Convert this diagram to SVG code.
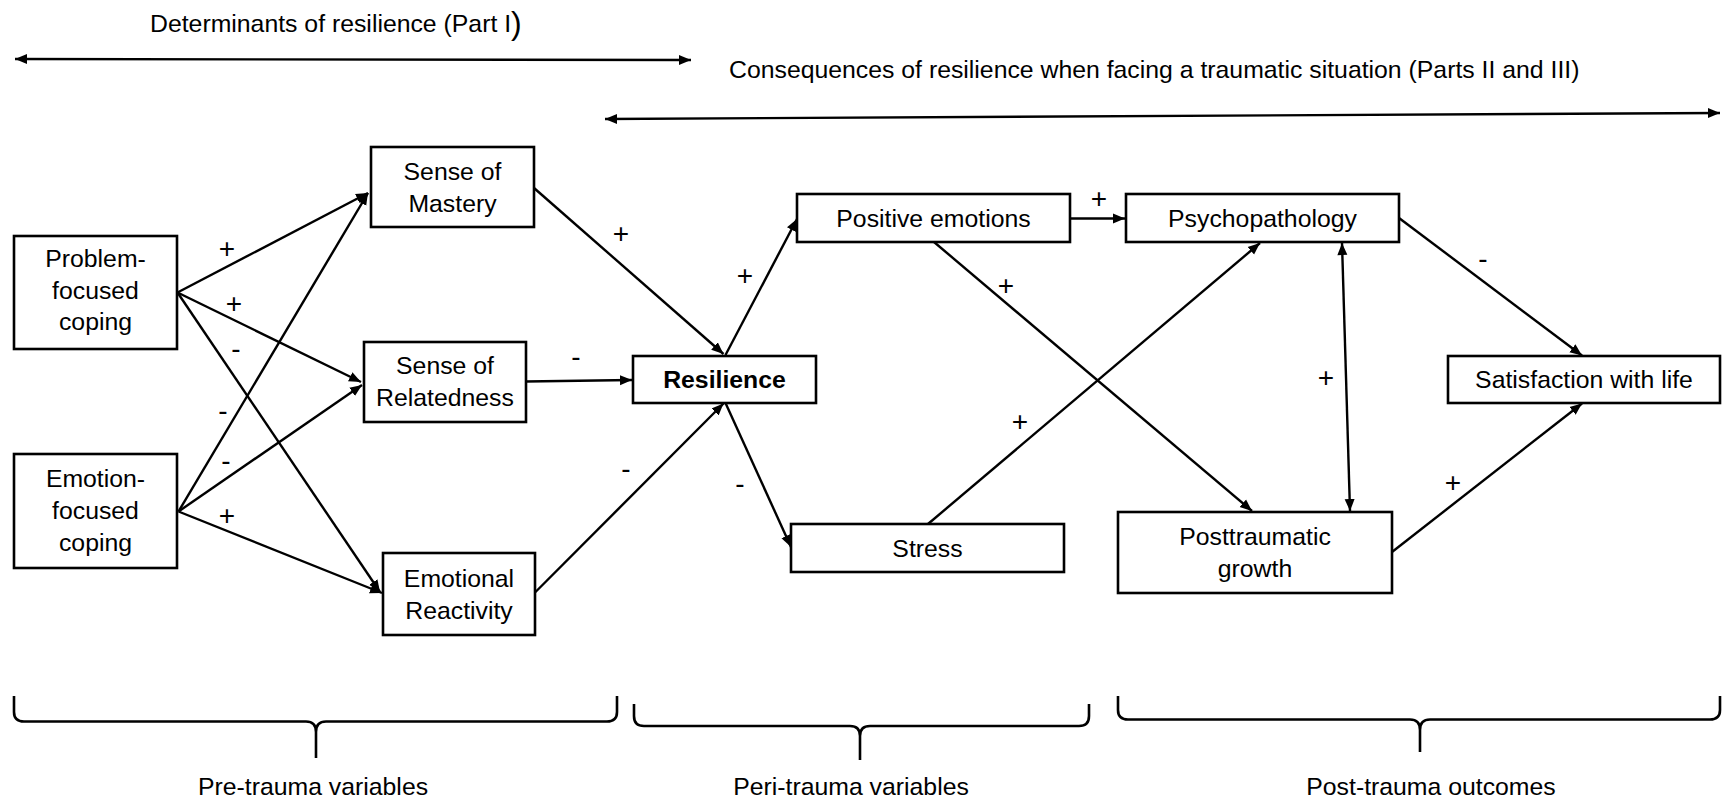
<svg xmlns="http://www.w3.org/2000/svg" width="1722" height="802" viewBox="0 0 1722 802">
  <defs>
    <marker id="arrow" markerUnits="userSpaceOnUse" markerWidth="13" markerHeight="11" refX="12" refY="5.5" orient="auto">
      <path d="M0,0.5 L12,5.5 L0,10.5 z" fill="#000"/>
    </marker>
    <marker id="arrow-start" markerUnits="userSpaceOnUse" markerWidth="13" markerHeight="11" refX="0" refY="5.5" orient="auto">
      <path d="M12,0.5 L0,5.5 L12,10.5 z" fill="#000"/>
    </marker>
  </defs>
  <style>
    text { font-family: "Liberation Sans", Arial, sans-serif; font-size: 24.8px; fill: #000; }
    .node rect { fill: #fff; stroke: #000; stroke-width: 2.6; }
    .node text { text-anchor: middle; }
    .bold { font-weight: bold; }
    .edge { fill: none; stroke: #000; stroke-width: 2.4; marker-end: url(#arrow); }
    .both { marker-start: url(#arrow-start); }
    .sign { text-anchor: middle; font-size: 28px; }
    .brace { fill: none; stroke: #000; stroke-width: 2.6; stroke-linejoin: round; }
    .caption { text-anchor: middle; }
  </style>

  <!-- headings with their span arrows -->
  <g id="headings">
    <text x="150" y="32">Determinants of resilience (Part I<tspan font-size="32" dy="2">)</tspan></text>
    <line class="edge both" x1="15" y1="59" x2="691" y2="60"/>
    <text x="729" y="78">Consequences of resilience when facing a traumatic situation (Parts II and III)</text>
    <line class="edge both" x1="605" y1="119" x2="1720" y2="113"/>
  </g>

  <!-- connectors -->
  <g id="connectors">
    <line class="edge" x1="177.5" y1="292.5" x2="368" y2="193"/>
    <line class="edge" x1="177.5" y1="292.5" x2="361" y2="382"/>
    <line class="edge" x1="177.5" y1="292.5" x2="380" y2="592"/>
    <line class="edge" x1="178.5" y1="511.5" x2="368" y2="193"/>
    <line class="edge" x1="178.5" y1="511.5" x2="362" y2="385"/>
    <line class="edge" x1="178.5" y1="511.5" x2="382" y2="593"/>
    <line class="edge" x1="534" y1="188" x2="723.5" y2="354"/>
    <line class="edge" x1="525.5" y1="381.5" x2="632" y2="380"/>
    <line class="edge" x1="534.5" y1="593" x2="723.5" y2="403.5"/>
    <line class="edge" x1="725.5" y1="355" x2="797" y2="219"/>
    <line class="edge" x1="725.5" y1="403" x2="791" y2="547"/>
    <line class="edge" x1="1070" y1="218.5" x2="1125" y2="218.5"/>
    <line class="edge" x1="934" y1="242" x2="1252" y2="511"/>
    <line class="edge" x1="928" y1="524" x2="1260" y2="243"/>
    <line class="edge both" x1="1342" y1="243" x2="1350" y2="511"/>
    <line class="edge" x1="1399" y1="218" x2="1582" y2="355.5"/>
    <line class="edge" x1="1392" y1="552" x2="1582" y2="403.5"/>
  </g>

  <!-- path signs -->
  <g id="signs">
    <text class="sign" x="227" y="258">+</text>
    <text class="sign" x="234" y="313">+</text>
    <text class="sign" x="236" y="358">-</text>
    <text class="sign" x="223" y="420">-</text>
    <text class="sign" x="226" y="470">-</text>
    <text class="sign" x="227" y="525">+</text>
    <text class="sign" x="621" y="243">+</text>
    <text class="sign" x="576" y="366">-</text>
    <text class="sign" x="745" y="285">+</text>
    <text class="sign" x="626" y="478">-</text>
    <text class="sign" x="740" y="493">-</text>
    <text class="sign" x="1099" y="208">+</text>
    <text class="sign" x="1006" y="295">+</text>
    <text class="sign" x="1020" y="431">+</text>
    <text class="sign" x="1326" y="387">+</text>
    <text class="sign" x="1483" y="268">-</text>
    <text class="sign" x="1453" y="492">+</text>
  </g>

  <!-- nodes -->
  <g id="problem-focused-coping" class="node">
    <rect x="14" y="236" width="163" height="113"/>
    <text x="95.5" y="267">Problem-</text>
    <text x="95.5" y="299">focused</text>
    <text x="95.5" y="330">coping</text>
  </g>
  <g id="emotion-focused-coping" class="node">
    <rect x="14" y="454" width="163" height="114"/>
    <text x="95.5" y="487">Emotion-</text>
    <text x="95.5" y="519">focused</text>
    <text x="95.5" y="551">coping</text>
  </g>
  <g id="sense-of-mastery" class="node">
    <rect x="371" y="147" width="163" height="80"/>
    <text x="452.5" y="180">Sense of</text>
    <text x="452.5" y="212">Mastery</text>
  </g>
  <g id="sense-of-relatedness" class="node">
    <rect x="364" y="342" width="162" height="80"/>
    <text x="445" y="374">Sense of</text>
    <text x="445" y="406">Relatedness</text>
  </g>
  <g id="emotional-reactivity" class="node">
    <rect x="383" y="553" width="152" height="82"/>
    <text x="459" y="587">Emotional</text>
    <text x="459" y="619">Reactivity</text>
  </g>
  <g id="resilience" class="node">
    <rect x="633" y="356" width="183" height="47"/>
    <text class="bold" x="724.5" y="388">Resilience</text>
  </g>
  <g id="positive-emotions" class="node">
    <rect x="797" y="194" width="273" height="48"/>
    <text x="933.5" y="227">Positive emotions</text>
  </g>
  <g id="stress" class="node">
    <rect x="791" y="524" width="273" height="48"/>
    <text x="927.5" y="557">Stress</text>
  </g>
  <g id="psychopathology" class="node">
    <rect x="1126" y="194" width="273" height="48"/>
    <text x="1262.5" y="227">Psychopathology</text>
  </g>
  <g id="posttraumatic-growth" class="node">
    <rect x="1118" y="512" width="274" height="81"/>
    <text x="1255" y="545">Posttraumatic</text>
    <text x="1255" y="577">growth</text>
  </g>
  <g id="satisfaction-with-life" class="node">
    <rect x="1448" y="356" width="272" height="47"/>
    <text x="1584" y="388">Satisfaction with life</text>
  </g>

  <!-- time-period braces -->
  <g id="pre-trauma">
    <path class="brace" d="M14,696 L14,712 Q14,721.5 24,721.5 L306,721.5 Q316,721.5 316,732 L316,758 M316,732 Q316,721.5 326,721.5 L607,721.5 Q617,721.5 617,712 L617,696"/>
    <text class="caption" x="313" y="795">Pre-trauma variables</text>
  </g>
  <g id="peri-trauma">
    <path class="brace" d="M634,704 L634,716 Q634,726 644,726 L850,726 Q860,726 860,736 L860,760 M860,736 Q860,726 870,726 L1079,726 Q1089,726 1089,716 L1089,704"/>
    <text class="caption" x="851" y="795">Peri-trauma variables</text>
  </g>
  <g id="post-trauma">
    <path class="brace" d="M1118,696 L1118,710 Q1118,719.5 1128,719.5 L1410,719.5 Q1420,719.5 1420,730 L1420,752 M1420,730 Q1420,719.5 1430,719.5 L1710,719.5 Q1720,719.5 1720,710 L1720,696"/>
    <text class="caption" x="1431" y="795">Post-trauma outcomes</text>
  </g>
</svg>
